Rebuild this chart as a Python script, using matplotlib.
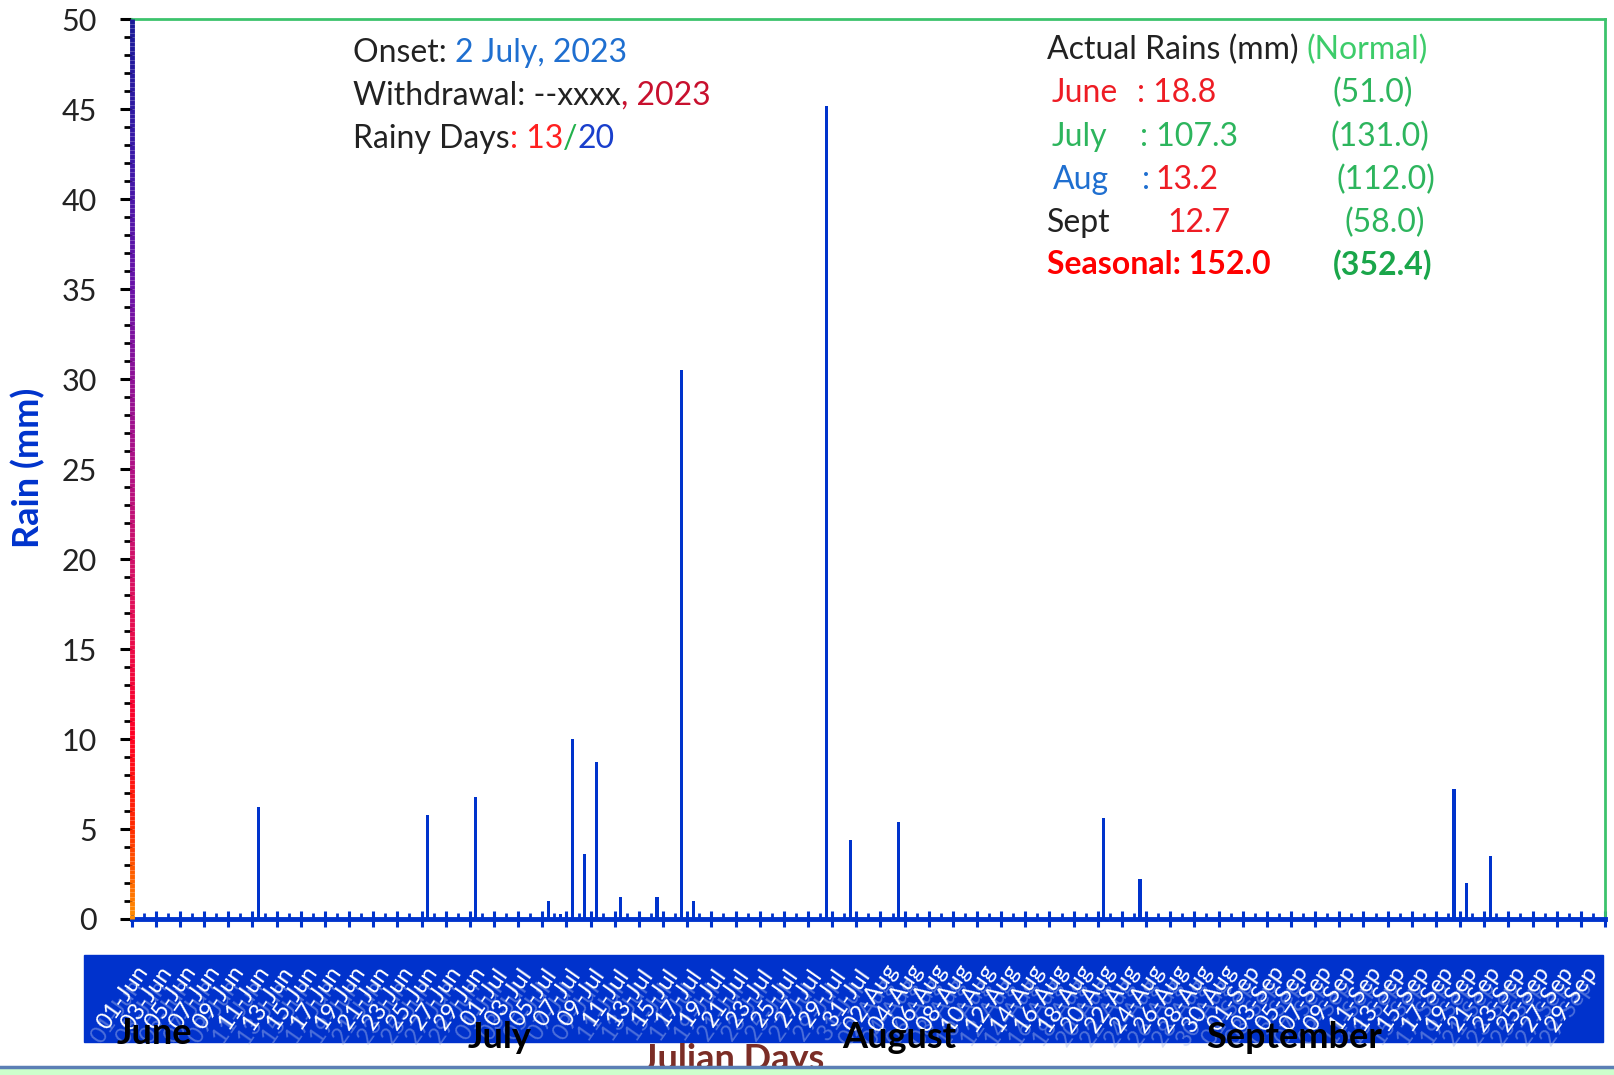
import numpy as np
import pandas as pd
import matplotlib
matplotlib.use('Agg')
import matplotlib.pyplot as plt
import matplotlib.transforms as mtransforms
from matplotlib.collections import LineCollection
from matplotlib.colors import LinearSegmentedColormap
from matplotlib.patches import Rectangle
from matplotlib.lines import Line2D

plt.rcParams['font.family'] = ['Lato', 'DejaVu Sans']

# season: 1 June - 30 September 2023
days = pd.date_range('2023-06-01', '2023-09-30', freq='D')

# daily rain (mm) on the days with rain
rain_dates = ['2023-06-11', '2023-06-25', '2023-06-29',
              '2023-07-05', '2023-07-06', '2023-07-07', '2023-07-08', '2023-07-09',
              '2023-07-11', '2023-07-14', '2023-07-16', '2023-07-17', '2023-07-28',
              '2023-07-30',
              '2023-08-03', '2023-08-20', '2023-08-23',
              '2023-09-18', '2023-09-19', '2023-09-21']
rain_mm = [6.2, 5.8, 6.8,
           1.0, 0.3, 10.0, 3.6, 8.7,
           1.2, 1.2, 30.5, 1.0, 45.2,
           4.4,
           5.4, 5.6, 2.2,
           7.2, 2.0, 3.5]

month_names = ['June', 'July', 'August', 'September']

rain = pd.Series(0.0, index=days)
rain[pd.to_datetime(rain_dates)] = rain_mm

W, H = 1614, 1075
fig = plt.figure(figsize=(W / 100, H / 100), dpi=100)
ax = fig.add_axes([131.7 / W, 1 - 919 / H, (1605 - 131.7) / W, (919 - 19.3) / H])

x = np.arange(len(days)) + 0.5
ax.bar(x, rain.values, width=0.26, color='#0033CC', zorder=3)
ax.set_xlim(0, len(days))
ax.set_ylim(0, 50)

# spines
for s in ['top', 'right']:
    ax.spines[s].set_color('#3CC36C')
    ax.spines[s].set_linewidth(2)
ax.spines['bottom'].set_color('#0033CC')
ax.spines['bottom'].set_linewidth(3.5)
ax.spines['bottom'].set_zorder(4)
ax.spines['left'].set_visible(False)

# gradient left axis
cmap = LinearSegmentedColormap.from_list('yaxis', [
    (0.0, '#FF8C00'), (0.1, '#FF2A00'), (0.2, '#FF0022'), (0.35, '#E0105A'),
    (0.5, '#B01085'), (0.7, '#6A12A8'), (0.85, '#3A18A8'), (1.0, '#1A1A99')])
yy = np.linspace(0, 50, 201)
segs = [[(0, yy[i]), (0, yy[i + 1])] for i in range(len(yy) - 1)]
lc = LineCollection(segs, colors=[cmap(v / 50) for v in yy[:-1]], linewidths=3.5,
                    transform=mtransforms.blended_transform_factory(ax.transAxes, ax.transData),
                    clip_on=False, zorder=5)
ax.add_collection(lc)

major_y = list(range(0, 51, 5))
minor_y = [v for v in range(0, 51) if v % 5]
ax.set_yticks(major_y)
ax.set_yticks(minor_y, minor=True)
ax.tick_params(axis='y', which='major', direction='out', length=9, width=2.2,
               pad=16, labelsize=22, labelcolor='#222222')
ax.tick_params(axis='y', which='minor', direction='out', length=5.5, width=2)
for t, v in zip(ax.yaxis.get_major_ticks(), major_y):
    t.tick1line.set_color(cmap(v / 50))
for t, v in zip(ax.yaxis.get_minor_ticks(), minor_y):
    t.tick1line.set_color(cmap(v / 50))

ax.set_xticks(range(0, len(days) + 1, 2))
ax.set_xticks(range(1, len(days), 2), minor=True)
ax.tick_params(axis='x', which='major', direction='inout', length=12, width=2.2,
               color='#0033CC', labelbottom=False)
ax.tick_params(axis='x', which='minor', direction='in', length=4.5, width=2,
               color='#0033CC')

# blue band with date labels
fig.patches.append(Rectangle((84 / W, 1 - 1042 / H), (1603 - 84) / W, (1042 - 955) / H,
                             transform=fig.transFigure, color='#0032CC', zorder=-1))
btr = mtransforms.blended_transform_factory(ax.transData, fig.transFigure)
for i in range(0, len(days), 2):
    lab = days[i].strftime('%d-%b')
    ax.text(i - 1.2, 1 - 1012 / H, lab, transform=btr, color='#A9BAEB', fontsize=17,
            rotation=55, ha='center', va='center', clip_on=False, alpha=0.45)
    ax.text(i - 0.75, 1 - 998 / H, lab, transform=btr, color='white', fontsize=17,
            rotation=55, ha='center', va='center', clip_on=False)

# month labels
month_pos = [(154, 1033), (500, 1038), (899, 1038), (1294, 1038)]
for name, (px, py) in zip(month_names, month_pos):
    fig.text(px / W, 1 - py / H, name, fontsize=26, fontweight='bold', color='black',
             ha='center', va='center')

fig.text(733 / W, 1 - 1060 / H, 'Julian Days', fontsize=26, fontweight='bold',
         color='#7B2D26', ha='center', va='center')
fig.text(28 / W, 1 - 468 / H, 'Rain (mm)', fontsize=26, fontweight='bold',
         color='#0033CC', rotation=90, ha='center', va='center')

# bottom line and strip
fig.patches.append(Rectangle((0, 0), 1, 6 / H, transform=fig.transFigure,
                             color='#CCFFCC', zorder=5))
fig.lines.append(Line2D([0, 1], [1 - 1067 / H, 1 - 1067 / H], transform=fig.transFigure,
                        color='#5B7FB5', linewidth=2.5, zorder=6))

renderer = fig.canvas.get_renderer()
FS = 23


def rich(px, py, parts, size=FS, weight='normal'):
    xf = px / W
    for s, c in parts:
        t = fig.text(xf, 1 - py / H, s, color=c, fontsize=size, fontweight=weight,
                     ha='left', va='center')
        xf += t.get_window_extent(renderer).width / W


# left info block
rich(353, 53, [('Onset: ', '#222222'), ('2 July, 2023', '#1F6FD0')])
rich(353, 96, [('Withdrawal: --xxxx', '#222222'), (', 2023', '#C8102E')])
rich(353, 139, [('Rainy Days', '#222222'), (': 13', '#FF2020'), ('/', '#22B14C'),
                ('20', '#1A3FCC')])

# right info block
rich(1047, 50, [('Actual Rains (mm) ', '#222222'), ('(Normal)', '#3DCC6A')])
rows = [
    (93, [(1052, 'June', '#EE1C24'), (1137, ': 18.8', '#EE1C24'), (1332, '(51.0)', '#2DB55D')]),
    (137, [(1052, 'July', '#2DB55D'), (1140, ': 107.3', '#2DB55D'), (1330, '(131.0)', '#2DB55D')]),
    (180, [(1053, 'Aug', '#1F6FD0'), (1142, ':', '#1F6FD0'), (1155, '13.2', '#EE1C24'),
           (1337, '(112.0)', '#2DB55D')]),
    (223, [(1047, 'Sept', '#222222'), (1167, '12.7', '#EE1C24'), (1345, '(58.0)', '#2DB55D')]),
]
for py, cells in rows:
    for px, s, c in cells:
        fig.text(px / W, 1 - py / H, s, color=c, fontsize=FS, ha='left', va='center')
fig.text(1047 / W, 1 - 265 / H, 'Seasonal: 152.0', color='#FF0000', fontsize=FS,
         fontweight='bold', ha='left', va='center')
fig.text(1333 / W, 1 - 265 / H, '(352.4)', color='#1AA64A', fontsize=FS,
         fontweight='bold', ha='left', va='center')

fig.savefig('out.png', dpi=100)
